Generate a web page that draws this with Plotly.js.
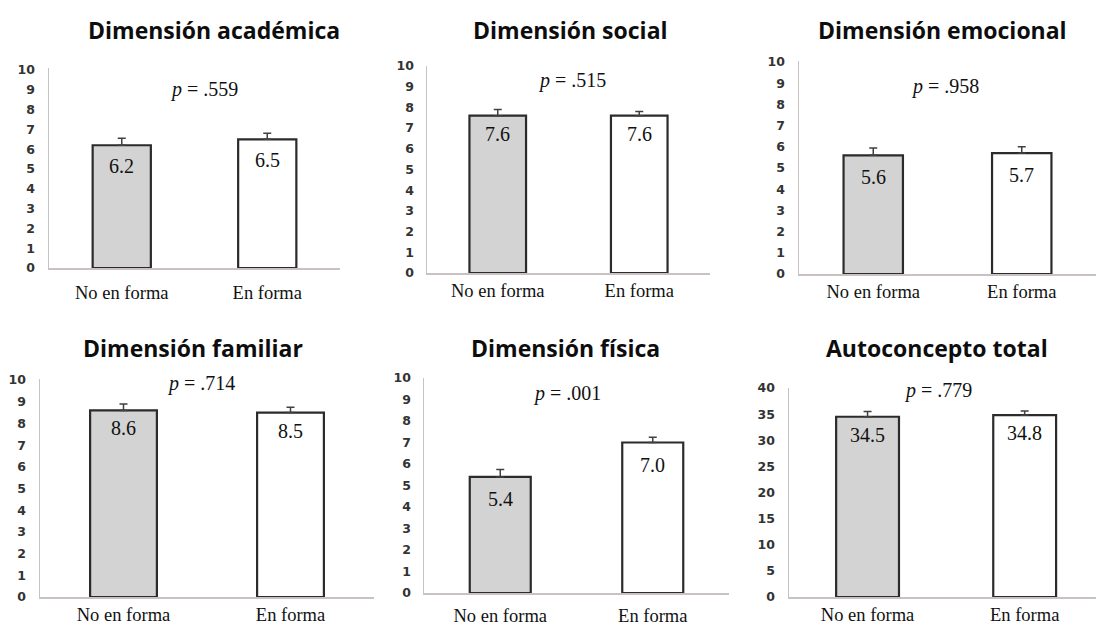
<!DOCTYPE html>
<html><head><meta charset="utf-8">
<script src="https://cdn.plot.ly/plotly-3.0.1.min.js"></script>
<style>html,body{margin:0;padding:0;background:#fff}#chart{width:1096px;height:626px}</style>
</head><body><div id="chart"></div>
<script>
// ---- data ----
const groups = ['No en forma', 'En forma'];
const panelTitles = ['Dimensión académica', 'Dimensión social', 'Dimensión emocional',
                     'Dimensión familiar', 'Dimensión física', 'Autoconcepto total'];
const pValues = ['.559', '.515', '.958', '.714', '.001', '.779'];
const meansAcademica = [6.2, 6.5];
const meansSocial = [7.6, 7.6];
const meansEmocional = [5.6, 5.7];
const meansFamiliar = [8.6, 8.5];
const meansFisica = [5.4, 7.0];
const meansTotal = [34.5, 34.8];
const errAcademica = [0.35, 0.3];
const errSocial = [0.3, 0.2];
const errEmocional = [0.35, 0.3];
const errFamiliar = [0.3, 0.25];
const errFisica = [0.35, 0.25];
const errTotal = [1.0, 0.8];
const ticksDimension = [0, 1, 2, 3, 4, 5, 6, 7, 8, 9, 10];
const ticksTotal = [0, 5, 10, 15, 20, 25, 30, 35, 40];

const allMeans = [meansAcademica, meansSocial, meansEmocional, meansFamiliar, meansFisica, meansTotal];
const allErr = [errAcademica, errSocial, errEmocional, errFamiliar, errFisica, errTotal];
const allTicks = [ticksDimension, ticksDimension, ticksDimension, ticksDimension, ticksDimension, ticksTotal];

// ---- layout geometry (pixels) ----
const W = 1096, H = 626;
const boxes = [
  {x0: 49, x1: 340, yt: 68, yb: 268, rTop: 10.1, xr: [-0.5, 1.5], ystand: 10, xstand: 7, title: [214, 30], p: [204, 90], vshift: -8},
  {x0: 427, x1: 710, yt: 66, yb: 273, rTop: 10.0, xr: [-0.5, 1.5], ystand: 9, xstand: 0, title: [570, 30], p: [572, 80], vshift: -5},
  {x0: 799, x1: 1096, yt: 61, yb: 274, rTop: 10.05, xr: [-0.5, 1.5], ystand: 10, xstand: 0, title: [942, 30], p: [945, 86], vshift: -9},
  {x0: 40, x1: 374, yt: 379, yb: 597, rTop: 10.05, xr: [-0.5, 1.5], ystand: 10, xstand: 0, title: [193, 348], p: [201, 383], vshift: -5},
  {x0: 424, x1: 729, yt: 378, yb: 593, rTop: 10.0, xr: [-0.5, 1.5], ystand: 9, xstand: 5, title: [565, 348], p: [567, 393], vshift: -9},
  {x0: 789, x1: 1096, yt: 388, yb: 597, rTop: 40.0, xr: [-0.5, 1.454], ystand: 10, xstand: 0, title: [937, 348], p: [938, 390], vshift: -5}
];

const traces = [];
const layout = {
  width: W, height: H,
  margin: {l: 0, r: 0, t: 0, b: 0},
  paper_bgcolor: '#ffffff', plot_bgcolor: 'rgba(0,0,0,0)',
  showlegend: false,
  annotations: []
};

boxes.forEach((b, i) => {
  const n = i + 1;
  const xa = 'x' + (n === 1 ? '' : n), ya = 'y' + (n === 1 ? '' : n);
  const xk = 'xaxis' + (n === 1 ? '' : n), yk = 'yaxis' + (n === 1 ? '' : n);
  traces.push({
    type: 'bar', x: groups, y: allMeans[i], xaxis: xa, yaxis: ya,
    width: 0.4,
    marker: {color: ['#d3d3d3', '#ffffff'], line: {color: '#2b2b2b', width: 2.2}},
    error_y: {type: 'data', array: allErr[i], arrayminus: [0, 0], symmetric: false,
              color: '#404040', thickness: 1.5, width: 4},
    hoverinfo: 'none'
  });
  layout[xk] = {
    domain: [b.x0 / W, b.x1 / W], anchor: ya, type: 'category',
    range: b.xr, showline: true, linecolor: '#c9c2c2', linewidth: 1.5,
    showgrid: false, zeroline: false, ticks: '', ticklabelstandoff: b.xstand,
    tickfont: {family: 'Liberation Serif', size: 18.5, color: '#111111'}, fixedrange: true
  };
  layout[yk] = {
    domain: [1 - b.yb / H, 1 - b.yt / H], anchor: xa,
    range: [0, b.rTop], tickmode: 'array',
    tickvals: allTicks[i], ticktext: allTicks[i].map(v => '<b>' + v + '</b>'),
    showline: true, linecolor: '#c9c2c2', linewidth: 1.5,
    showgrid: false, zeroline: false, ticks: '', ticklabelstandoff: b.ystand,
    tickfont: {family: 'DejaVu Sans', size: 12.5, color: '#333333'}, fixedrange: true
  };
  // title
  layout.annotations.push({
    xref: 'paper', yref: 'paper', x: b.title[0] / W, y: 1 - b.title[1] / H,
    xanchor: 'center', yanchor: 'middle', showarrow: false,
    text: '<b>' + panelTitles[i] + '</b>',
    font: {family: 'Open Sans', size: 23, color: '#0d0d0d'}
  });
  // p-value
  layout.annotations.push({
    xref: 'paper', yref: 'paper', x: b.p[0] / W, y: 1 - b.p[1] / H,
    xanchor: 'center', yanchor: 'middle', showarrow: false,
    text: '<i>p</i> = ' + pValues[i],
    font: {family: 'Liberation Serif', size: 20, color: '#111111'}
  });
  // value labels
  groups.forEach((g, j) => {
    layout.annotations.push({
      xref: xa, yref: ya, x: g, y: allMeans[i][j],
      xanchor: 'center', yanchor: 'top', yshift: b.vshift, showarrow: false,
      text: allMeans[i][j].toFixed(1),
      font: {family: 'Liberation Serif', size: 20, color: '#111111'}
    });
  });
});

Plotly.newPlot('chart', traces, layout, {displayModeBar: false, staticPlot: true});
</script>
</body></html>
